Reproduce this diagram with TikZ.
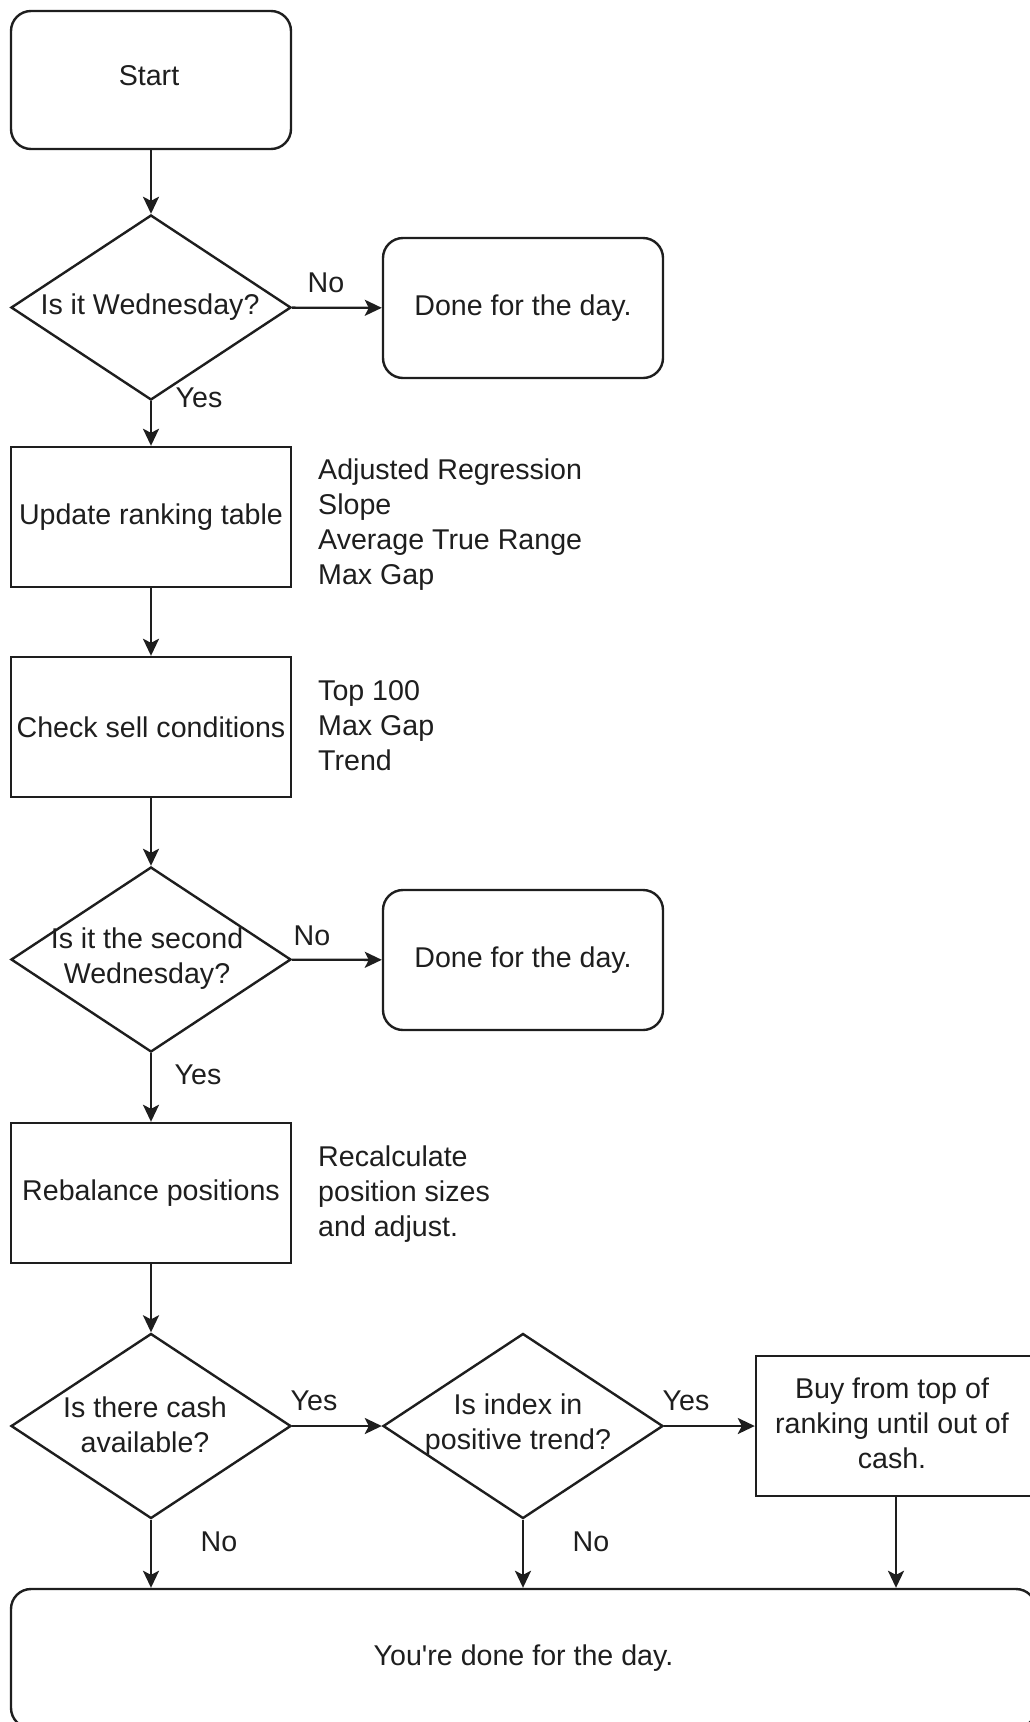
\documentclass[tikz,border=0pt]{standalone}
\usepackage{fontspec}
\setmainfont{Liberation Sans}
\usetikzlibrary{shapes.geometric,arrows.meta}
\definecolor{ink}{HTML}{1E1E1E}
\tikzset{
  every node/.style={font=\fontsize{28.6}{35}\selectfont, text=ink},
  box/.style={draw=ink, line width=2.4pt, minimum width=280pt, minimum height=140pt, inner sep=0pt},
  rbox/.style={box, rounded corners=20pt},
  dia/.style={draw=ink, diamond, line width=2.4pt, minimum width=280pt, minimum height=185pt, inner sep=0pt},
  txt/.style={align=center, inner sep=0pt},
  side/.style={align=left, anchor=west, inner sep=0pt},
  lbl/.style={inner sep=0pt},
  arr/.style={draw=ink, line width=2.4pt, -{Stealth[length=17pt,width=16pt,inset=4pt]}},
}
\begin{document}
\begin{tikzpicture}[x=1pt,y=-1pt]
\useasboundingbox (0,0) rectangle (1029,1722);
% nodes
\node[rbox, minimum height=138pt] (start) at (151,80) {};
\node[txt] (startt) at (149,76) {Start};
\node[dia] (d1) at (151,307.5) {};
\node[txt] (d1t) at (150,307) {Is it Wednesday?};
\node[rbox] (done1) at (523,308) {Done for the day.};
\node[box] (upd) at (151,517) {Update ranking table};
\node[side] (s1) at (318,525) {Adjusted Regression\\Slope\\Average True Range\\Max Gap};
\node[box] (chk) at (151,727) {Check sell conditions};
\node[side] (s2) at (318,726) {Top 100\\Max Gap\\Trend};
\node[dia] (d2) at (151,959.5) {};
\node[txt] (d2t) at (147,958.5) {Is it the second\\Wednesday?};
\node[rbox] (done2) at (523,960) {Done for the day.};
\node[box] (reb) at (151,1193) {Rebalance positions};
\node[side] (s3) at (318,1194) {Recalculate\\position sizes\\and adjust.};
\node[dia] (d3) at (151,1426) {};
\node[txt] (d3t) at (145,1424.5) {Is there cash\\available?};
\node[dia] (d4) at (523,1426) {};
\node[txt] (d4t) at (518,1424.5) {Is index in\\positive trend?};
\node[box] (buy) at (896,1426) {};
\node[txt] (buyt) at (892,1423) {Buy from top of\\ranking until out of\\cash.};
\node[rbox, minimum width=1025pt, minimum height=139pt] (fin) at (523.5,1658.5) {You\textquotesingle re done for the day.};
% connectors
\draw[arr] (start) -- (d1);
\draw[arr] (d1) -- (done1);
\draw[arr] (d1) -- (upd);
\draw[arr] (upd) -- (chk);
\draw[arr] (chk) -- (d2);
\draw[arr] (d2) -- (done2);
\draw[arr] (d2) -- (reb);
\draw[arr] (reb) -- (d3);
\draw[arr] (d3) -- (d4);
\draw[arr] (d4) -- (buy);
\draw[arr] (d3.south) -- (d3.south |- fin.north);
\draw[arr] (d4.south) -- (d4.south |- fin.north);
\draw[arr] (buy.south) -- (buy.south |- fin.north);
% labels
\node[lbl] (l1) at (326,283) {No};
\node[lbl] (l2) at (199,398) {Yes};
\node[lbl] (l3) at (312,936) {No};
\node[lbl] (l4) at (198,1075) {Yes};
\node[lbl] (l5) at (314,1401) {Yes};
\node[lbl] (l6) at (686,1401) {Yes};
\node[lbl] (l7) at (219,1542) {No};
\node[lbl] (l8) at (591,1542) {No};
\end{tikzpicture}
\end{document}
